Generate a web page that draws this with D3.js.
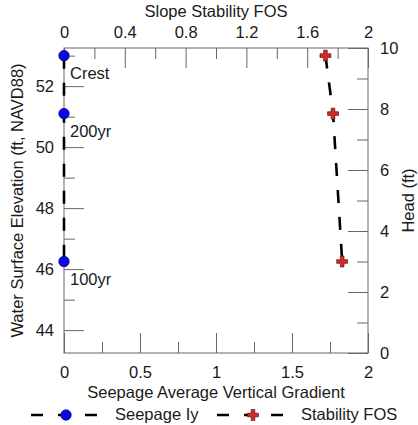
<!DOCTYPE html>
<html>
<head>
<meta charset="utf-8">
<script src="https://cdn.jsdelivr.net/npm/d3@7"></script>
<style>
  body { margin: 0; background: #fff; }
  svg text { font-family: "Liberation Sans", Arial, sans-serif; fill: #1a1a1a; }
</style>
</head>
<body>
<script>
// Data
var events = ["Crest", "200yr", "100yr"];
var seepageIy = [0, 0, 0];
var elevation = [53.0, 51.1, 46.25];   // ft, NAVD88
var stabilityFOS = [1.72, 1.77, 1.83];
var head = [9.75, 7.85, 3.0];          // ft

// Tick values
var gradMajor = [0, 0.5, 1, 1.5, 2];
var gradMinor = [0.25, 0.75, 1.25, 1.75];
var fosMajor = [0, 0.4, 0.8, 1.2, 1.6, 2];
var fosMinor = [0.2, 0.6, 1.0, 1.4, 1.8];
var elevMajor = [44, 46, 48, 50, 52];
var elevMinor = [45, 47, 49, 51, 53];
var headMajor = [0, 2, 4, 6, 8, 10];
var headMinor = [1, 3, 5, 7, 9];

var width = 418, height = 425;
// plot box (note: "top" is reserved on window, so use prefixed names)
var pLeft = 64, pRight = 368, pTop = 48, pBottom = 353;
var fontSize = "16.5px";
var axisColor = "#666";

var svg = d3.select("body").append("svg")
  .attr("width", width)
  .attr("height", height);

// Scales
var xGrad = d3.scaleLinear().domain([0, 2]).range([pLeft, pRight]);
var xFos = d3.scaleLinear().domain([0, 2]).range([pLeft, pRight]);
var yElev = d3.scaleLinear().domain([43.25, 53.25]).range([pBottom, pTop]);
var yHead = d3.scaleLinear().domain([0, 10]).range([pBottom, pTop]);

// draw one axis with inward major and minor ticks
function drawAxis(axisFn, scale, major, minor, transform, pad, fmt) {
  var gMinor = svg.append("g").attr("transform", transform)
    .call(axisFn(scale).tickValues(minor).tickSize(-11).tickSizeOuter(0).tickFormat(""));
  var gMajor = svg.append("g").attr("transform", transform)
    .call(axisFn(scale).tickValues(major).tickSize(-20).tickSizeOuter(0)
      .tickPadding(pad).tickFormat(fmt));
  [gMinor, gMajor].forEach(function (g) {
    g.select(".domain").remove();
    g.selectAll("line").attr("stroke", axisColor);
    g.selectAll("text").style("font-size", fontSize).attr("fill", "#1a1a1a");
  });
}

var fmt = function (d) { return d3.format("~g")(d); };

drawAxis(d3.axisBottom, xGrad, gradMajor, gradMinor, "translate(0," + pBottom + ")", 13, fmt);
drawAxis(d3.axisTop, xFos, fosMajor, fosMinor, "translate(0," + pTop + ")", 10, fmt);
drawAxis(d3.axisLeft, yElev, elevMajor, elevMinor, "translate(" + pLeft + ",0)", 10, fmt);
drawAxis(d3.axisRight, yHead, headMajor, headMinor, "translate(" + pRight + ",0)", 12, fmt);

// Frame
svg.append("rect")
  .attr("x", pLeft).attr("y", pTop)
  .attr("width", pRight - pLeft).attr("height", pBottom - pTop)
  .attr("fill", "none")
  .attr("stroke", axisColor)
  .attr("stroke-width", 1);

// Axis titles
svg.append("text")
  .attr("x", (pLeft + pRight) / 2).attr("y", 17)
  .attr("text-anchor", "middle")
  .style("font-size", fontSize)
  .text("Slope Stability FOS");

svg.append("text")
  .attr("x", (pLeft + pRight) / 2).attr("y", 398)
  .attr("text-anchor", "middle")
  .style("font-size", fontSize)
  .text("Seepage Average Vertical Gradient");

svg.append("text")
  .attr("transform", "translate(23," + (pTop + pBottom) / 2 + ") rotate(-90)")
  .attr("text-anchor", "middle")
  .style("font-size", fontSize)
  .text("Water Surface Elevation (ft, NAVD88)");

svg.append("text")
  .attr("transform", "translate(414," + (pTop + pBottom) / 2 + ") rotate(-90)")
  .attr("text-anchor", "middle")
  .style("font-size", fontSize)
  .text("Head (ft)");

// Series
var seepageData = events.map(function (e, i) {
  return { name: e, x: seepageIy[i], y: elevation[i] };
});
var fosData = events.map(function (e, i) {
  return { name: e, x: stabilityFOS[i], y: head[i] };
});

var dash = "13,14";
var cross = d3.symbol().type(d3.symbolCross).size(66);

var seepageLine = d3.line()
  .x(function (d) { return xGrad(d.x); })
  .y(function (d) { return yElev(d.y); });
var fosLine = d3.line()
  .x(function (d) { return xFos(d.x); })
  .y(function (d) { return yHead(d.y); });

svg.append("path")
  .datum(seepageData)
  .attr("d", seepageLine)
  .attr("fill", "none")
  .attr("stroke", "#000")
  .attr("stroke-width", 2.6)
  .attr("stroke-dasharray", dash);

svg.append("path")
  .datum(fosData)
  .attr("d", fosLine)
  .attr("fill", "none")
  .attr("stroke", "#000")
  .attr("stroke-width", 2.6)
  .attr("stroke-dasharray", dash);

svg.selectAll(".seep")
  .data(seepageData)
  .enter().append("circle")
  .attr("class", "seep")
  .attr("cx", function (d) { return xGrad(d.x); })
  .attr("cy", function (d) { return yElev(d.y); })
  .attr("r", 5.2)
  .attr("fill", "#0a0ae6")
  .attr("stroke", "#00007a")
  .attr("stroke-width", 0.8);

svg.selectAll(".seepLabel")
  .data(seepageData)
  .enter().append("text")
  .attr("class", "seepLabel")
  .attr("x", function (d) { return xGrad(d.x) + 6; })
  .attr("y", function (d) { return yElev(d.y) + 23; })
  .style("font-size", fontSize)
  .text(function (d) { return d.name; });

svg.selectAll(".fos")
  .data(fosData)
  .enter().append("path")
  .attr("class", "fos")
  .attr("d", cross)
  .attr("transform", function (d) {
    return "translate(" + xFos(d.x) + "," + yHead(d.y) + ")";
  })
  .attr("fill", "#d42a2a")
  .attr("stroke", "#5a1414")
  .attr("stroke-width", 0.7);

// Legend
var legendY = 415;
var legendItems = [
  { label: "Seepage Iy", x0: 31, marker: "circle" },
  { label: "Stability FOS", x0: 217, marker: "cross" }
];

legendItems.forEach(function (item) {
  var g = svg.append("g");
  g.append("line")
    .attr("x1", item.x0).attr("x2", item.x0 + 66)
    .attr("y1", legendY).attr("y2", legendY)
    .attr("stroke", "#000")
    .attr("stroke-width", 2.6)
    .attr("stroke-dasharray", "12,15");
  if (item.marker === "circle") {
    g.append("circle")
      .attr("cx", item.x0 + 35).attr("cy", legendY)
      .attr("r", 5.2)
      .attr("fill", "#0a0ae6")
      .attr("stroke", "#00007a")
      .attr("stroke-width", 0.8);
  } else {
    g.append("path")
      .attr("d", cross)
      .attr("transform", "translate(" + (item.x0 + 36) + "," + legendY + ")")
      .attr("fill", "#d42a2a")
      .attr("stroke", "#5a1414")
      .attr("stroke-width", 0.7);
  }
  g.append("text")
    .attr("x", item.x0 + 84).attr("y", 420)
    .style("font-size", fontSize)
    .text(item.label);
});
</script>
</body>
</html>
